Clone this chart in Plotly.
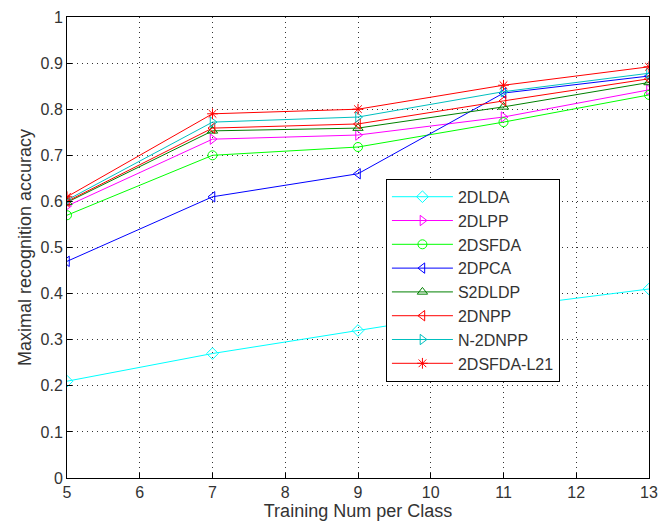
import plotly.graph_objects as go

x = [5, 7, 9, 11, 13]
names = ["2DLDA", "2DLPP", "2DSFDA", "2DPCA", "S2DLDP", "2DNPP", "N-2DNPP", "2DSFDA-L21"]
lda = [0.21, 0.27, 0.32, 0.37, 0.41]
lpp = [0.59, 0.735, 0.744, 0.783, 0.842]
sfda = [0.57, 0.70, 0.718, 0.772, 0.831]
pca = [0.47, 0.61, 0.66, 0.835, 0.872]
s2dldp = [0.598, 0.753, 0.759, 0.805, 0.858]
npp = [0.60, 0.759, 0.768, 0.818, 0.866]
n2dnpp = [0.603, 0.772, 0.783, 0.838, 0.878]
l21 = [0.61, 0.79, 0.80, 0.852, 0.892]
series = [lda, lpp, sfda, pca, s2dldp, npp, n2dnpp, l21]
colors = ["#00FFFF", "#FF00FF", "#00FF00", "#0000FF", "#008000", "#FF0000", "#00BFBF", "#FF0000"]
symbols = ["diamond-open", "triangle-right-open", "circle-open", "triangle-left-open",
           "triangle-up-open", "triangle-left-open", "triangle-right-open", "asterisk-open"]
xticks = [5, 6, 7, 8, 9, 10, 11, 12, 13]
yticks = [0, 0.1, 0.2, 0.3, 0.4, 0.5, 0.6, 0.7, 0.8, 0.9, 1]
yticktext = ["0", "0.1", "0.2", "0.3", "0.4", "0.5", "0.6", "0.7", "0.8", "0.9", "1"]

FONT = "Liberation Sans, Arial"
fig = go.Figure()
for n, s, c, m in zip(names, series, colors, symbols):
    fig.add_trace(go.Scatter(x=x, y=s, name=n, mode="lines+markers",
                             line=dict(color=c, width=1),
                             marker=dict(symbol=m, size=9, color=c, line=dict(color=c, width=1))))

axis_common = dict(showline=True, linecolor="black", linewidth=1, mirror=True,
                   ticks="inside", ticklen=5, tickcolor="black",
                   showgrid=True, gridcolor="#333", griddash="1px,4px", gridwidth=1,
                   zeroline=False, ticklabeloverflow="allow",
                   tickfont=dict(family=FONT, size=16, color="#333"))
fig.update_xaxes(range=[5, 13], tickvals=xticks,
                 title=dict(text="Training Num per Class", standoff=3,
                            font=dict(family=FONT, size=18, color="#333")), **axis_common)
fig.update_yaxes(range=[0, 1], tickvals=yticks, ticktext=yticktext,
                 title=dict(text="Maximal recognition accuracy", standoff=4,
                            font=dict(family=FONT, size=18, color="#333")), **axis_common)
fig.update_layout(width=665, height=526, margin=dict(l=67, r=7, t=17, b=48),
                  paper_bgcolor="white", plot_bgcolor="white", showlegend=True,
                  legend=dict(x=0.548, y=0.649, xanchor="left", yanchor="top",
                              bordercolor="black", borderwidth=1, bgcolor="white",
                              itemwidth=61,
                              font=dict(family=FONT, size=16, color="#333"),
                              tracegroupgap=0))
fig.write_html("out.html")
